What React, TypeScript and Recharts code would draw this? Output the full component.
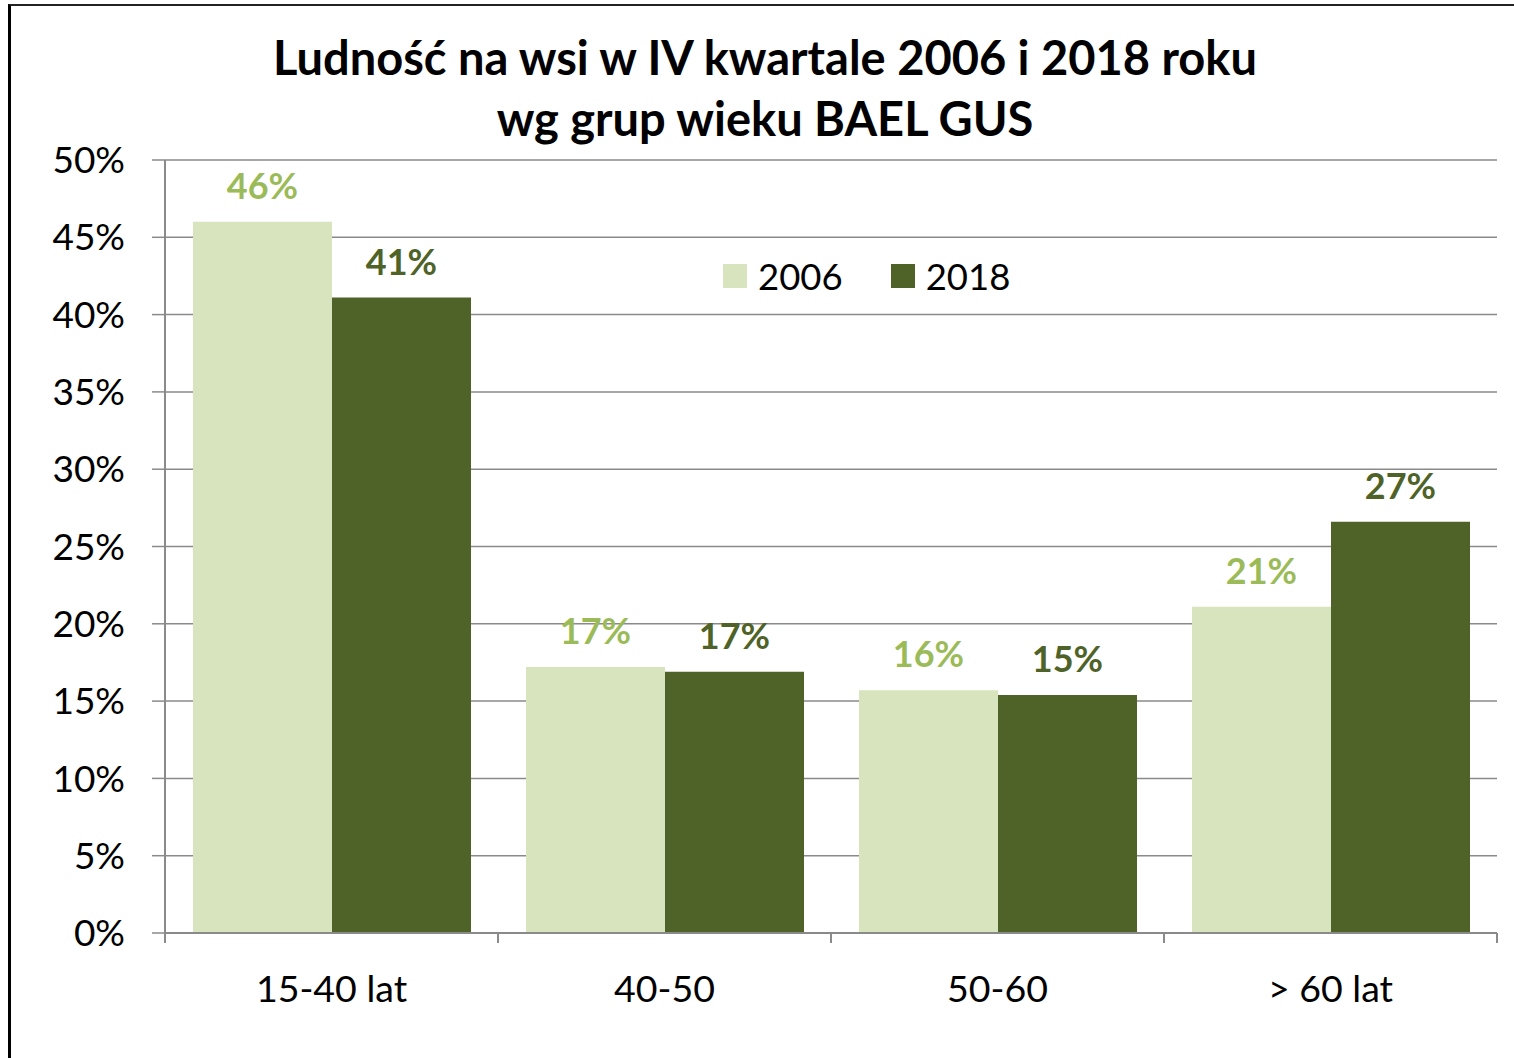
import React from 'react';
import { BarChart, Bar, XAxis, YAxis, CartesianGrid, LabelList, Legend } from 'recharts';

const categories = ['15-40 lat', '40-50', '50-60', '> 60 lat'];
const values2006 = [46.0, 17.2, 15.7, 21.1];
const values2018 = [41.1, 16.9, 15.4, 26.6];
const yTicks = [0, 5, 10, 15, 20, 25, 30, 35, 40, 45, 50];
const seriesNames = ['2006', '2018'];
const titleLines = ['Ludność na wsi w IV kwartale 2006 i 2018 roku', 'wg grup wieku BAEL GUS'];

const data = categories.map((c, i) => ({ name: c, v2006: values2006[i], v2018: values2018[i] }));

const FONT = 'Lato, "Open Sans", sans-serif';
const GRID = '#8a8a8a';
const LIGHT = '#D7E4BD';
const DARK = '#4F6228';
const LIGHT_LABEL = '#9BBB59';

const XTick = (props: any) => {
  const { x, y, payload, index, visibleTicksCount, width } = props;
  const half = payload && typeof payload.offset === 'number' && payload.offset > 0
    ? payload.offset
    : width / visibleTicksCount / 2;
  const last = index === visibleTicksCount - 1;
  return (
    <g>
      <line x1={x - half} x2={x - half} y1={y - 10} y2={y} stroke={GRID} strokeWidth={2} />
      {last && <line x1={x + half} x2={x + half} y1={y - 10} y2={y} stroke={GRID} strokeWidth={2} />}
      <text x={x} y={y + 59} textAnchor="middle" fontSize={37.5} fontFamily={FONT} fill="#000">
        {payload.value}
      </text>
    </g>
  );
};

const LegendContent = (props: any) => {
  const { payload } = props;
  return (
    <div style={{ display: 'flex', alignItems: 'center', fontFamily: FONT, fontSize: 36.5, color: '#000', whiteSpace: 'nowrap' }}>
      {(payload || []).map((p: any, i: number) => (
        <div key={i} style={{ display: 'flex', alignItems: 'center', marginRight: i === 0 ? 48 : 0 }}>
          <span style={{ display: 'inline-block', width: 24, height: 24, background: p.color, marginRight: 11 }} />
          <span style={{ lineHeight: '40px' }}>{p.value}</span>
        </div>
      ))}
    </div>
  );
};

export default function App() {
  return (
    <div style={{ position: 'absolute', left: 0, top: 0, width: 1514, height: 1058, overflow: 'hidden', background: '#fff', fontFamily: FONT }}>
      <div style={{ position: 'absolute', left: 8, top: 4, width: 1600, height: 1200, borderLeft: '3px solid #000', borderTop: '2px solid #222', boxSizing: 'border-box' }} />
      <div style={{ position: 'absolute', left: 0, top: 27, width: 1530, textAlign: 'center', fontFamily: FONT, fontWeight: 700, fontSize: 47, lineHeight: '61px', color: '#000' }}>
        {titleLines.map((t, i) => (<div key={i}>{t}</div>))}
      </div>
      <div style={{ position: 'absolute', left: 0, top: 0 }}>
        <BarChart width={1514} height={1058} data={data} margin={{ top: 160, right: 17, left: 0, bottom: 65 }} barGap={0} barCategoryGap={28}>
          <CartesianGrid vertical={false} stroke={GRID} strokeWidth={1.5} />
          <XAxis dataKey="name" height={60} axisLine={{ stroke: GRID, strokeWidth: 2 }} tickLine={false} tickSize={10} tickMargin={0} tick={<XTick />} interval={0} />
          <YAxis width={165} domain={[0, 50]} ticks={yTicks} tickFormatter={(v: number) => `${v}%`} axisLine={{ stroke: GRID, strokeWidth: 2 }} tickLine={{ stroke: GRID, strokeWidth: 1.5 }} tickSize={13} tickMargin={27} tick={{ fontSize: 37, fill: '#000', fontFamily: FONT }} interval={0} />
          <Legend verticalAlign="middle" align="center" layout="horizontal" content={<LegendContent />} wrapperStyle={{ top: 256, left: 723, width: 'auto' }} />
          <Bar dataKey="v2006" name={seriesNames[0]} fill={LIGHT} isAnimationActive={false}>
            <LabelList dataKey="v2006" position="top" offset={23} formatter={(v: number) => `${Math.round(v)}%`} fill={LIGHT_LABEL} fontSize={36} fontWeight={700} fontFamily={FONT} />
          </Bar>
          <Bar dataKey="v2018" name={seriesNames[1]} fill={DARK} isAnimationActive={false}>
            <LabelList dataKey="v2018" position="top" offset={23} formatter={(v: number) => `${Math.round(v)}%`} fill={DARK} fontSize={36} fontWeight={700} fontFamily={FONT} />
          </Bar>
        </BarChart>
      </div>
    </div>
  );
}
